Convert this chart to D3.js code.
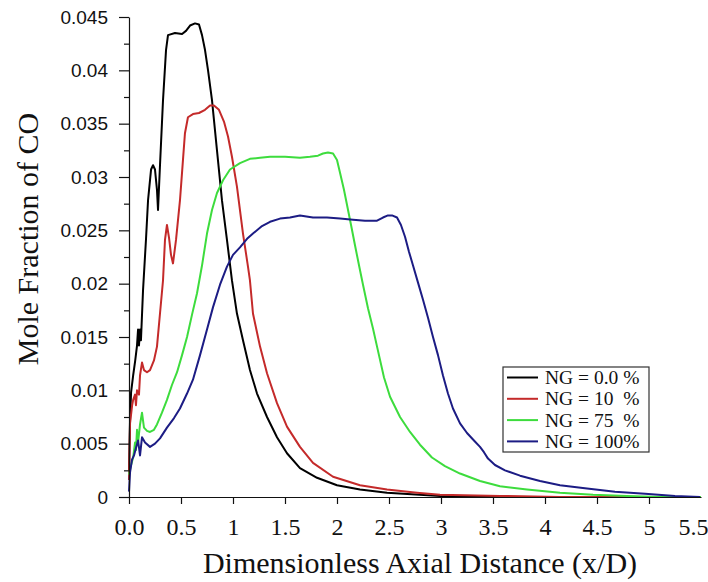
<!DOCTYPE html>
<html>
<head>
<meta charset="utf-8">
<script src="https://cdn.jsdelivr.net/npm/d3@7/dist/d3.min.js"></script>
<style>
  html, body { margin: 0; padding: 0; background: #fff; }
  svg { display: block; }
</style>
</head>
<body>
<svg id="chart" width="708" height="582"></svg>
<script>
// Axial distance (x/D) and CO mole fraction for each natural-gas blend
const ng0X = [0,0.01,0.02,0.04,0.06,0.077,0.087,0.096,0.106,0.115,0.135,0.163,0.183,0.212,0.231,0.25,0.269,0.279,0.298,0.327,0.356,0.375,0.442,0.51,0.548,0.587,0.635,0.673,0.702,0.731,0.76,0.798,0.846,0.894,0.942,0.99,1.038,1.096,1.163,1.231,1.327,1.423,1.519,1.644,1.808,2.0,2.221,2.481,2.99,3.57,4.5,5.5];
const ng0Y = [0.0025,0.0072,0.0098,0.0114,0.0128,0.0142,0.0157,0.0142,0.0157,0.0147,0.0194,0.0241,0.0278,0.0307,0.0311,0.0307,0.0288,0.0269,0.0311,0.0372,0.0419,0.0433,0.0435,0.0434,0.0437,0.0442,0.0444,0.0443,0.0433,0.0419,0.04,0.0372,0.0325,0.0278,0.0241,0.0203,0.0172,0.0147,0.0119,0.0097,0.0075,0.0056,0.0041,0.0027,0.0018,0.0011,0.0007,0.0004,0.0001,0,0,0];

const ng10X = [0,0.01,0.03,0.04,0.058,0.067,0.077,0.096,0.106,0.125,0.144,0.173,0.202,0.24,0.269,0.298,0.327,0.346,0.365,0.385,0.404,0.423,0.452,0.49,0.519,0.538,0.567,0.615,0.673,0.731,0.779,0.817,0.865,0.913,0.952,0.99,1.038,1.096,1.144,1.163,1.192,1.26,1.327,1.423,1.519,1.644,1.769,1.962,2.221,2.481,2.769,2.99,3.57,4.14,5.0,5.5];
const ng10Y = [0.0016,0.0069,0.0086,0.0091,0.0096,0.0086,0.01,0.0096,0.0114,0.0126,0.0119,0.0117,0.0119,0.0128,0.0141,0.0172,0.0203,0.0241,0.0255,0.0243,0.0227,0.0219,0.0241,0.0278,0.0316,0.0341,0.0356,0.0359,0.036,0.0363,0.0367,0.0367,0.0363,0.0352,0.0338,0.0319,0.0291,0.0247,0.0216,0.0203,0.0172,0.0141,0.0116,0.0088,0.0066,0.0047,0.0032,0.0019,0.0011,0.0007,0.0004,0.0002,0.0001,0,0,0];

const ng75X = [0,0.02,0.04,0.058,0.067,0.077,0.087,0.106,0.125,0.144,0.173,0.202,0.24,0.269,0.317,0.365,0.413,0.462,0.51,0.558,0.606,0.654,0.702,0.75,0.798,0.846,0.904,0.971,1.067,1.163,1.26,1.356,1.5,1.644,1.74,1.817,1.865,1.913,1.962,2.0,2.029,2.067,2.096,2.135,2.173,2.212,2.25,2.298,2.346,2.385,2.452,2.51,2.606,2.702,2.798,2.913,3.038,3.183,3.375,3.567,3.827,4.144,4.462,4.788,5.106,5.5];
const ng75Y = [0.0021,0.003,0.0037,0.0051,0.0044,0.0063,0.0051,0.0068,0.0079,0.0065,0.0062,0.0061,0.0063,0.0068,0.0079,0.0091,0.0105,0.0117,0.0133,0.015,0.0171,0.0191,0.0217,0.0247,0.0269,0.0285,0.0297,0.0307,0.0313,0.0317,0.0318,0.0319,0.0319,0.0318,0.0319,0.032,0.0322,0.0323,0.0322,0.0316,0.0304,0.0288,0.0274,0.0255,0.0236,0.0217,0.0199,0.0177,0.0158,0.0141,0.0112,0.0094,0.0075,0.0061,0.0049,0.0037,0.0029,0.0022,0.0015,0.001,0.0007,0.0004,0.0002,0.0001,0,0];

const ng100X = [0,0.01,0.029,0.048,0.067,0.087,0.106,0.125,0.154,0.202,0.25,0.298,0.365,0.433,0.49,0.558,0.615,0.683,0.75,0.808,0.875,0.942,1.0,1.067,1.135,1.192,1.279,1.356,1.452,1.548,1.644,1.769,1.904,2.029,2.154,2.269,2.385,2.442,2.49,2.529,2.577,2.615,2.654,2.692,2.731,2.779,2.827,2.875,2.923,2.971,3.019,3.067,3.115,3.183,3.25,3.317,3.375,3.413,3.452,3.519,3.615,3.76,3.952,4.144,4.404,4.673,4.962,5.25,5.49];
const ng100Y = [0.0005,0.0023,0.0035,0.0039,0.0046,0.0053,0.0039,0.0056,0.0051,0.0047,0.005,0.0055,0.0065,0.0074,0.0083,0.0097,0.011,0.0133,0.0157,0.0178,0.0199,0.0216,0.0227,0.0234,0.0242,0.0247,0.0254,0.0258,0.0261,0.0262,0.0264,0.0262,0.0262,0.0261,0.026,0.0259,0.0259,0.0262,0.0264,0.0264,0.0262,0.0255,0.0244,0.023,0.0217,0.0201,0.0185,0.0168,0.015,0.0133,0.0114,0.0097,0.0083,0.0069,0.006,0.0053,0.0047,0.0042,0.0036,0.003,0.0025,0.002,0.0015,0.0011,0.0008,0.0005,0.0003,0.0001,0];

const seriesNames  = ["NG = 0.0 %", "NG = 10  %", "NG = 75  %", "NG = 100%"];
const seriesColors = ["#000000", "#c42a2a", "#3ddc3d", "#1c1c84"];
const xTickValues  = [0,0.5,1,1.5,2,2.5,3,3.5,4,4.5,5,5.5];
const xTickLabels  = ["0.0","0.5","1","1.5","2","2.5","3","3.5","4","4.5","5","5.5"];
const yMajorTicks  = [0,0.005,0.01,0.015,0.02,0.025,0.03,0.035,0.04,0.045];
const yMinorTicks  = [0.0025,0.0075,0.0125,0.0175,0.0225,0.0275,0.0325,0.0375,0.0425];

const series = [
  {xs: ng0X,   ys: ng0Y},
  {xs: ng10X,  ys: ng10Y},
  {xs: ng75X,  ys: ng75Y},
  {xs: ng100X, ys: ng100Y}
].map((s, i) => ({
  name: seriesNames[i],
  color: seriesColors[i],
  points: s.xs.map((x, j) => [x, s.ys[j]])
}));

const svg = d3.select("#chart");
svg.append("rect").attr("width", 708).attr("height", 582).attr("fill", "#fff");

const x = d3.scaleLinear().domain([0, 5.5]).range([129, 701]);
const y = d3.scaleLinear().domain([0, 0.045]).range([497, 17]);

// curves
const line = d3.line().x(d => x(d[0])).y(d => y(d[1]));
svg.append("g").selectAll("path")
  .data(series)
  .join("path")
  .attr("d", d => line(d.points))
  .attr("fill", "none")
  .attr("stroke", d => d.color)
  .attr("stroke-width", 2)
  .attr("stroke-linejoin", "round");

// x axis
const xAxis = d3.axisBottom(x)
  .tickValues(xTickValues)
  .tickFormat((d, i) => xTickLabels[i])
  .tickSize(7)
  .tickSizeOuter(0);
const gx = svg.append("g").attr("transform", "translate(0,497)").call(xAxis);
gx.select(".domain").attr("stroke", "#111").attr("stroke-width", 1.2);
gx.selectAll(".tick line").attr("stroke", "#111").attr("stroke-width", 1.2)
  .filter(d => d > 5.2).remove();
gx.selectAll(".tick text")
  .attr("dy", null).attr("y", 38)
  .attr("dx", d => d > 5.2 ? -8 : 0)
  .attr("fill", "#111")
  .style("font-family", "'Liberation Serif', 'Times New Roman', serif")
  .style("font-size", "24px");

// y axis with minor ticks
const yAxis = d3.axisLeft(y)
  .tickValues(yMajorTicks)
  .tickFormat(d => d === 0 ? "0" : String(+d.toFixed(3)))
  .tickSize(10)
  .tickPadding(11)
  .tickSizeOuter(0);
const gy = svg.append("g").attr("transform", "translate(129,0)").call(yAxis);
gy.select(".domain").attr("stroke", "#111").attr("stroke-width", 1.2);
gy.selectAll(".tick line").attr("stroke", "#111").attr("stroke-width", 1.2);
gy.selectAll(".tick text")
  .attr("fill", "#111")
  .style("font-family", "'Liberation Sans', Arial, sans-serif")
  .style("font-size", "19px");

const yMinor = d3.axisLeft(y).tickValues(yMinorTicks).tickFormat("").tickSize(5).tickSizeOuter(0);
const gyMinor = svg.append("g").attr("transform", "translate(129,0)").call(yMinor);
gyMinor.select(".domain").remove();
gyMinor.selectAll(".tick line").attr("stroke", "#111").attr("stroke-width", 1.2);

// axis titles
svg.append("text")
  .attr("transform", "translate(38,239) rotate(-90)")
  .attr("text-anchor", "middle")
  .style("font-family", "'Liberation Serif', 'Times New Roman', serif")
  .style("font-size", "30px")
  .attr("fill", "#111")
  .text("Mole Fraction of CO");

svg.append("text")
  .attr("x", 420).attr("y", 573)
  .attr("text-anchor", "middle")
  .style("font-family", "'Liberation Serif', 'Times New Roman', serif")
  .style("font-size", "30px")
  .attr("fill", "#111")
  .text("Dimensionless Axial Distance (x/D)");

// legend
const legend = svg.append("g").attr("transform", "translate(503,367)");
legend.append("rect")
  .attr("width", 146).attr("height", 85)
  .attr("fill", "#fff").attr("stroke", "#333").attr("stroke-width", 1.2);
const rows = legend.selectAll("g.row").data(series).join("g")
  .attr("class", "row")
  .attr("transform", (d, i) => `translate(0,${10.5 + i * 21.3})`);
rows.append("line")
  .attr("x1", 4).attr("x2", 35)
  .attr("stroke", d => d.color).attr("stroke-width", 2);
rows.append("text")
  .attr("x", 42).attr("y", 6.5)
  .style("font-family", "'Liberation Serif', 'Times New Roman', serif")
  .style("font-size", "19.5px")
  .style("white-space", "pre")
  .attr("fill", "#111")
  .text(d => d.name);
</script>
</body>
</html>
